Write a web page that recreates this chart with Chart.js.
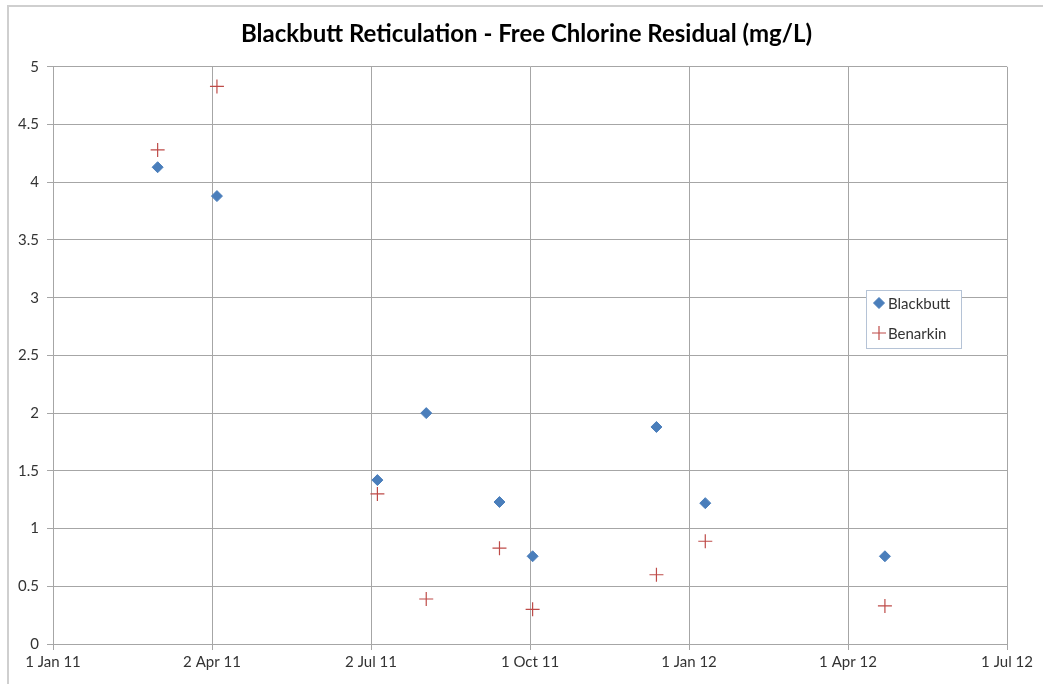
<!DOCTYPE html>
<html>
<head>
<meta charset="utf-8">
<script src="https://cdn.jsdelivr.net/npm/chart.js@4/dist/chart.umd.min.js"></script>
<style>
  html, body { margin: 0; padding: 0; background: #fff; overflow: hidden; }
  #wrap { position: relative; width: 1043px; height: 684px; }
  #frame {
    position: absolute; left: 7px; top: 5px; right: -10px; bottom: -10px;
    border-left: 2px solid #cfcfcf; border-top: 2px solid #cfcfcf;
    pointer-events: none;
  }
</style>
</head>
<body>
<div id="wrap">
  <canvas id="chart" width="1043" height="684"></canvas>
  <div id="frame"></div>
</div>
<script>
/* Blackbutt reticulation - free chlorine residual */

const sampleDates = ['2011-03-02', '2011-04-05', '2011-07-06', '2011-08-03', '2011-09-14',
                     '2011-10-03', '2011-12-13', '2012-01-10', '2012-04-22'];
const blackbutt = [4.13, 3.88, 1.42, 2.00, 1.23, 0.76, 1.88, 1.22, 0.76];
const benarkin  = [4.28, 4.83, 1.30, 0.39, 0.83, 0.30, 0.60, 0.89, 0.33];

const xTickLabels = ['1 Jan 11', '2 Apr 11', '2 Jul 11', '1 Oct 11', '1 Jan 12', '1 Apr 12', '1 Jul 12'];
const AXIS_START = '2011-01-01';
const AXIS_END = '2012-07-01';

const DAY = 86400000;
const dayOf = s => (Date.parse(s) - Date.parse(AXIS_START)) / DAY;
const xMax = dayOf(AXIS_END);
const xStep = xMax / (xTickLabels.length - 1);

const toPoints = vals => vals.map((v, i) => ({ x: dayOf(sampleDates[i]), y: v }));

const BLUE = '#4a7ebb';
const RED = '#be4b48';
const GRID = '#a6a6a6';
const FONT = 'Lato, "Open Sans", sans-serif';

// legend box drawn inside the plot, like Excel
const boxLegend = {
  id: 'boxLegend',
  afterDraw(chart) {
    const ctx = chart.ctx;
    const x = 866, y = 290, w = 95, h = 58;
    ctx.save();
    ctx.fillStyle = '#fff';
    ctx.fillRect(x, y, w, h);
    ctx.strokeStyle = '#b5c3d6';
    ctx.lineWidth = 1;
    ctx.strokeRect(x + 0.5, y + 0.5, w, h);
    ctx.font = '15px ' + FONT;
    ctx.textBaseline = 'middle';
    chart.data.datasets.forEach((ds, i) => {
      const cy = y + 13 + i * 30;
      ctx.strokeStyle = ds.borderColor;
      ctx.fillStyle = ds.backgroundColor;
      ctx.lineWidth = ds.borderWidth;
      Chart.helpers.drawPoint(ctx, { pointStyle: ds.pointStyle, radius: ds.pointRadius, rotation: 0, borderWidth: ds.borderWidth }, 879, cy);
      ctx.fillStyle = '#333';
      ctx.fillText(ds.label, 888, cy + 1);
    });
    ctx.restore();
  }
};

new Chart(document.getElementById('chart'), {
  type: 'scatter',
  data: {
    datasets: [{
      label: 'Blackbutt',
      data: toPoints(blackbutt),
      pointStyle: 'rectRot',
      pointRadius: 5.5,
      pointHoverRadius: 5.5,
      backgroundColor: BLUE,
      borderColor: BLUE,
      borderWidth: 1
    }, {
      label: 'Benarkin',
      data: toPoints(benarkin),
      pointStyle: 'cross',
      pointRadius: 7,
      pointHoverRadius: 7,
      backgroundColor: RED,
      borderColor: RED,
      borderWidth: 1.2
    }]
  },
  options: {
    responsive: false,
    animation: false,
    layout: { padding: { left: 10, right: 0, top: 0, bottom: 0 } },
    plugins: {
      legend: { display: false },
      tooltip: { enabled: false },
      title: {
        display: true,
        text: 'Blackbutt Reticulation - Free Chlorine Residual (mg/L)',
        color: '#000',
        font: { family: FONT, size: 24, weight: 'bold' },
        padding: { top: 20, bottom: 18 }
      }
    },
    scales: {
      x: {
        type: 'linear',
        min: 0,
        max: xMax,
        afterBuildTicks(scale) {
          scale.ticks = xTickLabels.map((_, i) => ({ value: i * xStep }));
        },
        afterFit(scale) { scale.height = 40; },
        ticks: {
          autoSkip: false,
          maxRotation: 0,
          padding: 3,
          color: '#333',
          font: { family: FONT, size: 15 },
          callback: (v, i) => xTickLabels[i]
        },
        grid: { color: GRID, tickLength: 6, lineWidth: 1 },
        border: { color: GRID }
      },
      y: {
        min: 0,
        max: 5,
        afterFit(scale) { scale.width = 43; },
        ticks: {
          stepSize: 0.5,
          padding: 8,
          color: '#333',
          font: { family: FONT, size: 15 },
          callback: v => String(v)
        },
        grid: { color: GRID, tickLength: 6, lineWidth: 1 },
        border: { color: GRID }
      },
      // empty right-hand strip so the plot stops where Excel's did
      spacer: {
        position: 'right',
        min: 0,
        max: 5,
        afterFit(scale) { scale.width = 36; },
        ticks: { display: false },
        grid: { display: false },
        border: { display: false }
      }
    }
  },
  plugins: [boxLegend]
});
</script>
</body>
</html>
